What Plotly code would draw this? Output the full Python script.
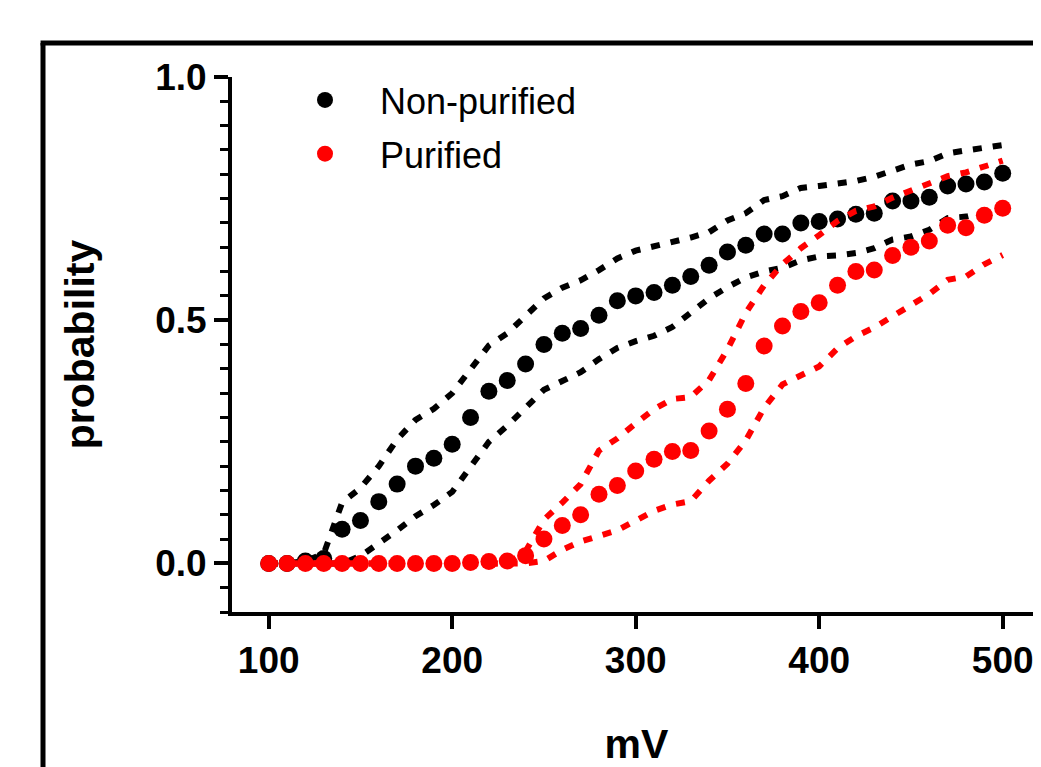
import plotly.graph_objects as go

mv = list(range(100, 501, 10))

nonpur = [0.0, 0.0, 0.005, 0.01, 0.07, 0.088, 0.127, 0.163, 0.2, 0.216, 0.245,
          0.30, 0.354, 0.376, 0.41, 0.45, 0.473, 0.483, 0.51, 0.54, 0.55,
          0.557, 0.572, 0.59, 0.613, 0.64, 0.654, 0.677, 0.677, 0.70, 0.703,
          0.708, 0.718, 0.72, 0.745, 0.745, 0.753, 0.776, 0.78, 0.784, 0.802]
nonpur_hi = [0.0, 0.0, 0.005, 0.02, 0.125, 0.155, 0.2, 0.255, 0.295, 0.318, 0.35,
             0.40, 0.448, 0.473, 0.51, 0.545, 0.567, 0.582, 0.603, 0.627, 0.643,
             0.651, 0.659, 0.67, 0.681, 0.705, 0.72, 0.747, 0.755, 0.772, 0.776,
             0.781, 0.786, 0.795, 0.808, 0.82, 0.827, 0.843, 0.849, 0.855, 0.86]
nonpur_lo = [0.0, 0.0, 0.0, 0.0, 0.0, 0.015, 0.04, 0.068, 0.097, 0.12, 0.147,
             0.197, 0.25, 0.283, 0.318, 0.357, 0.375, 0.393, 0.42, 0.443, 0.457,
             0.468, 0.486, 0.516, 0.545, 0.568, 0.588, 0.60, 0.608, 0.623, 0.631,
             0.633, 0.638, 0.648, 0.666, 0.672, 0.686, 0.71, 0.713, 0.722, 0.735]

pur = [0.0, 0.0, 0.0, 0.0, 0.0, 0.0, 0.0, 0.0, 0.0, 0.0, 0.0,
       0.002, 0.004, 0.005, 0.016, 0.05, 0.078, 0.10, 0.142, 0.16, 0.19,
       0.214, 0.23, 0.232, 0.272, 0.317, 0.37, 0.447, 0.488, 0.518, 0.536,
       0.572, 0.60, 0.603, 0.633, 0.65, 0.663, 0.695, 0.69, 0.716, 0.73]
pur_hi = [0.0, 0.0, 0.0, 0.0, 0.0, 0.0, 0.0, 0.0, 0.0, 0.0, 0.0,
          0.0, 0.0, 0.0, 0.025, 0.09, 0.125, 0.163, 0.232, 0.257, 0.288,
          0.317, 0.338, 0.342, 0.377, 0.44, 0.515, 0.572, 0.615, 0.648, 0.675,
          0.704, 0.725, 0.734, 0.752, 0.766, 0.78, 0.796, 0.804, 0.815, 0.828]
pur_lo = [0.0, 0.0, 0.0, 0.0, 0.0, 0.0, 0.0, 0.0, 0.0, 0.0, 0.0,
          0.0, 0.0, 0.0, 0.0, 0.005, 0.028, 0.045, 0.057, 0.068, 0.088,
          0.108, 0.121, 0.128, 0.17, 0.205, 0.253, 0.32, 0.368, 0.386, 0.405,
          0.442, 0.467, 0.485, 0.508, 0.53, 0.554, 0.583, 0.59, 0.615, 0.634]

series_names = ["Non-purified", "Purified"]
colors = ["#000000", "#ff0000"]

x_ticks = [100, 200, 300, 400, 500]
y_ticks = [0.0, 0.5, 1.0]
y_ticklabels = ["0.0", "0.5", "1.0"]

fig = go.Figure()

groups = [(nonpur, nonpur_hi, nonpur_lo), (pur, pur_hi, pur_lo)]
for i, (mid, hi, lo) in enumerate(groups):
    for band in (hi, lo):
        fig.add_trace(go.Scatter(
            x=mv, y=band, mode="lines", showlegend=False, hoverinfo="skip",
            line=dict(color=colors[i], width=6, dash="9px,11px")))
    fig.add_trace(go.Scatter(
        x=mv, y=mid, mode="markers", name=series_names[i],
        legendgroup=series_names[i],
        marker=dict(color=colors[i], size=17, line=dict(width=0))))

# page is offset by the 8px body margin; figure sized to fill the window
OFF = 8
W, H = 1041 - OFF, 767 - OFF
ml, mr, mt, mb = 232 - OFF, 0, 77 - OFF, 767 - 612
pw, ph = W - ml - mr, H - mt - mb

def px_to_paper_x(px):  # px in page coordinates
    return (px - OFF - ml) / pw

def px_to_paper_y(py):
    return (H - mb - (py - OFF)) / ph

# outer frame (partially visible)
fx = px_to_paper_x(43)
fy = px_to_paper_y(43)
fig.add_shape(type="line", xref="paper", yref="paper",
              x0=fx, x1=fx, y0=-0.6, y1=fy, line=dict(color="black", width=5))
fig.add_shape(type="line", xref="paper", yref="paper",
              x0=fx - 0.003, x1=1.5, y0=fy, y1=fy, line=dict(color="black", width=5))

axis_font = dict(family="Liberation Sans, Arial, sans-serif", size=37, color="black")

fig.update_layout(
    width=W, height=H,
    margin=dict(l=ml, r=mr, t=mt, b=mb, pad=0),
    plot_bgcolor="white", paper_bgcolor="white",
    font=dict(family="Liberation Sans, Arial, sans-serif", color="black"),
    showlegend=True,
    legend=dict(x=px_to_paper_x(270), y=px_to_paper_y(70), xanchor="left", yanchor="top",
                font=dict(size=36, family="Liberation Sans, Arial, sans-serif", color="black"),
                bgcolor="rgba(0,0,0,0)", itemwidth=100, tracegroupgap=4,
                borderwidth=0),
    xaxis=dict(
        range=[80, 80 + pw / 1.835], showgrid=False, zeroline=False,
        showline=True, linecolor="black", linewidth=4,
        tickmode="array", tickvals=x_ticks, ticktext=[str(v) for v in x_ticks],
        ticks="outside", ticklen=13, tickwidth=4, tickcolor="black",
        tickfont=dict(axis_font, weight="bold"),
        title=dict(text="<b>mV</b>", font=dict(family="Liberation Sans, Arial, sans-serif", size=41, color="black"),
                   standoff=58),
    ),
    yaxis=dict(
        range=[-0.0999, 1.0], showgrid=False, zeroline=False,
        showline=True, linecolor="black", linewidth=4,
        tickmode="array", tickvals=y_ticks, ticktext=y_ticklabels,
        ticks="outside", ticklen=14, tickwidth=4, tickcolor="black",
        tickfont=dict(axis_font, weight="bold"),
        minor=dict(tickmode="linear", tick0=0, dtick=0.05, ticks="outside",
                   ticklen=8, tickwidth=3, tickcolor="black", showgrid=False),
        title=dict(text="<b>probability</b>", font=dict(family="Liberation Sans, Arial, sans-serif", size=41, color="black"),
                   standoff=49),
    ),
)

fig.write_html("out.html")
